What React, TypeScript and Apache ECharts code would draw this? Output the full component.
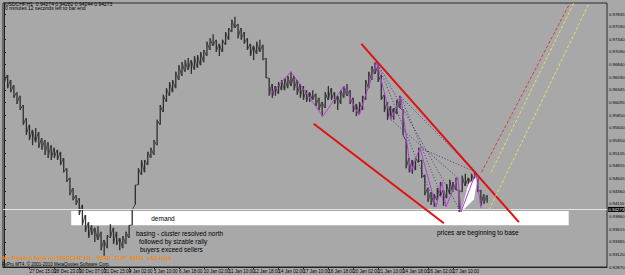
import React, { useEffect, useRef } from 'react';
import * as echarts from 'echarts';

// x axis: one unit = 4 hours (H1 bars grouped), label every 8 units
const xLabels = ['24 Dec 2010', '27 Dec 15:00', '28 Dec 23:00', '30 Dec 07:00', '31 Dec 15:00', '4 Jan 02:00', '5 Jan 10:00', '6 Jan 18:00', '10 Jan 02:00', '11 Jan 10:00', '12 Jan 18:00', '14 Jan 02:00', '17 Jan 10:00', '18 Jan 18:00', '20 Jan 02:00', '21 Jan 10:00', '24 Jan 18:00', '26 Jan 02:00', '27 Jan 10:00', '28 Jan 18:00'];
const priceTicks = [0.92870, 0.93120, 0.93365, 0.93615, 0.93860, 0.94110, 0.94360, 0.94605, 0.94855, 0.95105, 0.95350, 0.95600, 0.95850, 0.96095, 0.96345, 0.96590, 0.96840, 0.97090, 0.97340, 0.97590, 0.97835];
const currentPrice = 0.94273;

const highs = [0.9670, 0.9664, 0.9654, 0.9644, 0.9630, 0.9623, 0.9605, 0.9579, 0.9566, 0.9556, 0.9560, 0.9552, 0.9540, 0.9536, 0.9532, 0.9526, 0.9521, 0.9517, 0.9513, 0.9501,
  0.9481, 0.9462, 0.9442, 0.9428, 0.9422, 0.9409, 0.9389, 0.9375, 0.9369, 0.9364, 0.9367, 0.9356, 0.9340, 0.9350, 0.9371, 0.9364, 0.9356, 0.9344, 0.9348, 0.9356,
  0.9369, 0.9399, 0.9448, 0.9481, 0.9497, 0.9497, 0.9513, 0.9521, 0.9536, 0.9576, 0.9605, 0.9625, 0.9638, 0.9650, 0.9654, 0.9670, 0.9683, 0.9689, 0.9693, 0.9697,
  0.9693, 0.9701, 0.9703, 0.9709, 0.9713, 0.9729, 0.9736, 0.9744, 0.9733, 0.9725, 0.9733, 0.9748, 0.9756, 0.9772, 0.9778, 0.9764, 0.9756, 0.9748, 0.9736, 0.9725,
  0.9721, 0.9729, 0.9733, 0.9723, 0.9697, 0.9658, 0.9646, 0.9642, 0.9650, 0.9654, 0.9658, 0.9662, 0.9670, 0.9662, 0.9654, 0.9646, 0.9642, 0.9634, 0.9630, 0.9634,
  0.9627, 0.9619, 0.9611, 0.9630, 0.9642, 0.9638, 0.9630, 0.9623, 0.9634, 0.9642, 0.9646, 0.9634, 0.9619, 0.9607, 0.9611, 0.9623, 0.9654, 0.9670, 0.9681, 0.9689,
  0.9681, 0.9664, 0.9625, 0.9611, 0.9603, 0.9599, 0.9615, 0.9623, 0.9595, 0.9536, 0.9501, 0.9497, 0.9501, 0.9521, 0.9497, 0.9468, 0.9442, 0.9434, 0.9430, 0.9442,
  0.9454, 0.9438, 0.9450, 0.9458, 0.9454, 0.9462, 0.9438, 0.9466, 0.9470, 0.9462, 0.9470, 0.9473, 0.9466, 0.9438, 0.9430, 0.9428];
const lows = [0.9650, 0.9638, 0.9630, 0.9619, 0.9607, 0.9595, 0.9566, 0.9546, 0.9536, 0.9526, 0.9532, 0.9521, 0.9517, 0.9507, 0.9501, 0.9497, 0.9501, 0.9497, 0.9487, 0.9473,
  0.9454, 0.9428, 0.9418, 0.9409, 0.9389, 0.9369, 0.9356, 0.9344, 0.9350, 0.9336, 0.9340, 0.9320, 0.9309, 0.9324, 0.9344, 0.9332, 0.9330, 0.9320, 0.9324, 0.9332,
  0.9344, 0.9369, 0.9409, 0.9448, 0.9468, 0.9473, 0.9487, 0.9501, 0.9507, 0.9526, 0.9566, 0.9591, 0.9611, 0.9623, 0.9630, 0.9638, 0.9654, 0.9662, 0.9670, 0.9674,
  0.9666, 0.9674, 0.9678, 0.9683, 0.9689, 0.9701, 0.9713, 0.9721, 0.9709, 0.9701, 0.9709, 0.9723, 0.9733, 0.9748, 0.9756, 0.9736, 0.9733, 0.9725, 0.9713, 0.9701,
  0.9693, 0.9705, 0.9709, 0.9693, 0.9658, 0.9623, 0.9619, 0.9623, 0.9627, 0.9634, 0.9634, 0.9638, 0.9642, 0.9634, 0.9625, 0.9619, 0.9615, 0.9611, 0.9611, 0.9615,
  0.9603, 0.9595, 0.9583, 0.9599, 0.9615, 0.9615, 0.9607, 0.9595, 0.9607, 0.9619, 0.9623, 0.9607, 0.9591, 0.9583, 0.9587, 0.9595, 0.9615, 0.9638, 0.9654, 0.9666,
  0.9650, 0.9615, 0.9591, 0.9576, 0.9579, 0.9576, 0.9587, 0.9599, 0.9546, 0.9481, 0.9473, 0.9470, 0.9477, 0.9493, 0.9462, 0.9428, 0.9415, 0.9409, 0.9405, 0.9418,
  0.9426, 0.9407, 0.9422, 0.9430, 0.9434, 0.9438, 0.9395, 0.9434, 0.9446, 0.9442, 0.9450, 0.9454, 0.9434, 0.9407, 0.9411, 0.9413];

// drawn objects, in chart units [x1, price1, x2, price2]
const channelLines = [[114.6, 0.9725, 165.2, 0.9375], [99.3, 0.9568, 141.1, 0.9373]];
const redDashed = [[153.2, 0.9473, 181.6, 0.9805]];
const yellowDashed = [[156.3, 0.9473, 182.8, 0.9805], [155.6, 0.9399, 187.8, 0.9805]];
const zigzag = [[84.9, 0.9623], [92.0, 0.9670], [102.2, 0.9583], [109.0, 0.9642], [113.8, 0.9585], [119.6, 0.9689], [124.1, 0.9576], [127.3, 0.9621], [130.5, 0.9473], [133.4, 0.9521], [138.6, 0.9405], [140.5, 0.9454], [141.8, 0.9405], [145.6, 0.9462], [146.6, 0.9395], [151.4, 0.9473], [153.0, 0.9403]];
const fanLines = [[119.6, 0.9689, 151.4, 0.9473], [119.6, 0.9689, 146.6, 0.9395], [119.6, 0.9689, 138.6, 0.9405], [127.3, 0.9621, 151.4, 0.9473], [127.3, 0.9621, 141.8, 0.9405], [133.4, 0.9521, 151.4, 0.9473], [124.1, 0.9576, 145.6, 0.9462]];
const demandBox = [[21.4, 0.9397, 181.2, 0.9369]];
const whiteTriangle = [[146.6, 0.9395], [149.0, 0.9450], [152.0, 0.9466], [150.8, 0.9420]];

const FONT = '"Liberation Sans", Arial, sans-serif';

function segSeries(name: string, data: number[][], color: string, width: number, dash: any, z: number) {
  return {
    type: 'custom', name, z, silent: true, clip: true,
    data,
    encode: { x: [0, 2], y: [1, 3] },
    renderItem: (_p: any, api: any) => {
      const a = api.coord([api.value(0), api.value(1)]);
      const b = api.coord([api.value(2), api.value(3)]);
      return { type: 'line', shape: { x1: a[0], y1: a[1], x2: b[0], y2: b[1] }, style: { stroke: color, lineWidth: width, lineDash: dash } };
    },
  };
}

export default function App() {
  const ref = useRef<HTMLDivElement>(null);
  useEffect(() => {
    if (!ref.current) return;
    const chart = echarts.init(ref.current, null, { renderer: 'svg' });
    const bars = highs.map((h, i) => [i, lows[i], h]);
    const xTicks = xLabels.map((_, k) => k * 8);
    const txt = (x: number, y: number, text: string, size: number, fill = '#000', extra: any = {}) => ({
      type: 'text', x, y, silent: true, z: 50,
      style: { text, fill, fontSize: size, fontFamily: FONT, verticalAlign: 'middle', align: 'left', ...extra },
    });
    chart.setOption({
      animation: false,
      backgroundColor: '#a8a8a8',
      grid: { left: 3, right: 18, top: 3, bottom: 8, outerBoundsMode: 'none', containLabel: false, show: true, borderColor: '#2a2a2a', borderWidth: 1, backgroundColor: '#a8a8a8' },
      xAxis: {
        type: 'value', min: -0.5, max: 193.5,
        axisLine: { show: true, lineStyle: { color: '#222' } },
        axisTick: { show: true, length: 2, customValues: xTicks, lineStyle: { color: '#222' } },
        axisLabel: {
          customValues: xTicks, formatter: (v: number) => xLabels[Math.round(v / 8)] ?? '',
          fontSize: 4.5, color: '#000', align: 'left', margin: 1.5, fontFamily: FONT,
        },
        splitLine: { show: false },
      },
      yAxis: {
        type: 'value', position: 'right', min: 0.9287, max: 0.98051,
        axisLine: { show: true, lineStyle: { color: '#222' } },
        axisTick: { show: true, length: 1.5, customValues: priceTicks, lineStyle: { color: '#222' } },
        axisLabel: { customValues: priceTicks, formatter: (v: number) => v.toFixed(5), fontSize: 4.3, color: '#000', margin: 2, fontFamily: FONT },
        splitLine: { show: false },
      },
      series: [
        {
          type: 'custom', name: 'demand', z: 1, silent: true,
          data: demandBox, encode: { x: [0, 2], y: [1, 3] },
          renderItem: (_p: any, api: any) => {
            const a = api.coord([api.value(0), api.value(1)]);
            const b = api.coord([api.value(2), api.value(3)]);
            return { type: 'rect', shape: { x: a[0], y: a[1], width: b[0] - a[0], height: b[1] - a[1] }, style: { fill: '#ffffff' } };
          },
        },
        {
          type: 'custom', name: 'USDCHF', z: 3, silent: true,
          data: bars, encode: { x: 0, y: [1, 2] },
          renderItem: (params: any, api: any) => {
            const i = params.dataIndex;
            const a = api.coord([i, lows[i]]);
            const b = api.coord([i, highs[i]]);
            const children: any[] = [
              { type: 'line', shape: { x1: a[0], y1: a[1], x2: b[0], y2: b[1] }, style: { stroke: '#2e2e2e', lineWidth: 1.3 } },
            ];
            if (i > 0) {
              const up = highs[i] + lows[i] > highs[i - 1] + lows[i - 1];
              const prev = api.coord([i - 1, up ? highs[i - 1] : lows[i - 1]]);
              const cur = api.coord([i - 0.15, up ? lows[i] : highs[i]]);
              children.push({ type: 'line', shape: { x1: prev[0], y1: prev[1], x2: cur[0], y2: cur[1] }, style: { stroke: '#3a3a3a', lineWidth: 0.9 } });
            }
            return { type: 'group', children };
          },
          markLine: {
            silent: true, symbol: 'none', animation: false,
            lineStyle: { color: '#e4e4e4', width: 1, type: 'solid' },
            label: { show: true, position: 'end', distance: 1, formatter: currentPrice.toFixed(5), color: '#fff', backgroundColor: '#000', fontSize: 4.3, padding: [0.5, 0.5], fontFamily: FONT },
            data: [{ yAxis: currentPrice }],
          },
        },
        {
          type: 'custom', name: 'triangle', z: 4, silent: true,
          data: [0],
          renderItem: (_p: any, api: any) => ({
            type: 'polygon', shape: { points: whiteTriangle.map(p => api.coord(p)) }, style: { fill: '#ffffff' },
          }),
        },
        segSeries('fan', fanLines, '#22227a', 0.8, [1, 2], 5),
        {
          type: 'line', name: 'zigzag', z: 6, silent: true, symbol: 'none',
          data: zigzag, lineStyle: { color: '#b040d0', width: 1 },
        },
        segSeries('channel', channelLines, '#e01010', 2, null, 7),
        segSeries('redDashed', redDashed, '#d83a3a', 1, [3, 2], 7),
        segSeries('yellowDashed', yellowDashed, '#e8e060', 1, [3, 2], 7),
      ],
      graphic: [
        txt(5, 3.5, 'USDCHF,H1  0.94274 0.94282 0.94244 0.94273', 5),
        txt(5, 8, '0 minutes 12 seconds left to bar end', 5),
        txt(2, 258, 'No Pattern Now on USDCHF H1,  WRB_ZUP_INFO_v62.mq4', 6, '#f08a1c', { fontWeight: 'bold' }),
        txt(2, 264.5, 'FxPro MT4, © 2001-2010 MetaQuotes Software Corp.', 4.5),
        txt(163, 218, 'demand', 6.5, '#000', { align: 'center' }),
        txt(136, 233.3, 'basing - cluster resolved north', 6.5),
        txt(139, 241.7, 'followed by sizable rally', 6.5),
        txt(140, 249.3, 'buyers exceed sellers', 6.5),
        txt(437, 232, 'prices are beginning to base', 6.5),
      ],
    });
    return () => chart.dispose();
  }, []);
  return <div ref={ref} style={{ position: 'absolute', left: 0, top: 0, width: 625, height: 275, background: '#a8a8a8' }} />;
}
